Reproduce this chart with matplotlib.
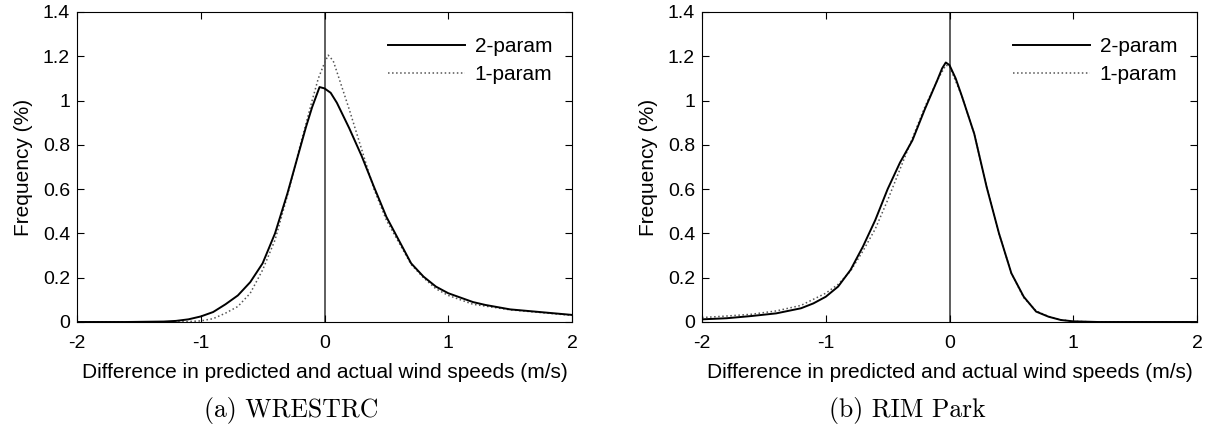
import numpy as np
import matplotlib.pyplot as plt

# WRESTRC (left panel)
x_a2 = [-2.0, -1.6, -1.3, -1.2, -1.1, -1.0, -0.9, -0.8, -0.7, -0.6, -0.5, -0.4, -0.3, -0.2,
        -0.15, -0.1, -0.04, 0.0, 0.05, 0.1, 0.2, 0.3, 0.4, 0.5, 0.6, 0.7, 0.8, 0.9, 1.0, 1.1,
        1.2, 1.3, 1.5, 1.7, 2.0]
y_a2 = [0.0, 0.0, 0.002, 0.005, 0.012, 0.025, 0.045, 0.08, 0.12, 0.18, 0.265, 0.40, 0.58, 0.78,
        0.88, 0.97, 1.061, 1.055, 1.035, 0.99, 0.875, 0.75, 0.61, 0.475, 0.37, 0.265, 0.205,
        0.16, 0.13, 0.11, 0.09, 0.077, 0.057, 0.047, 0.032]
x_a1 = [-2.0, -1.3, -1.1, -1.0, -0.9, -0.8, -0.7, -0.6, -0.5, -0.4, -0.3, -0.2, -0.1, -0.05,
        0.0, 0.03, 0.07, 0.1, 0.2, 0.3, 0.4, 0.5, 0.6, 0.7, 0.8, 0.9, 1.0, 1.2, 1.5, 2.0]
y_a1 = [0.0, 0.0, 0.002, 0.005, 0.015, 0.04, 0.07, 0.13, 0.235, 0.37, 0.57, 0.79, 1.0, 1.1,
        1.17, 1.205, 1.18, 1.13, 0.96, 0.78, 0.6, 0.46, 0.36, 0.26, 0.2, 0.15, 0.12, 0.08,
        0.055, 0.03]

# RIM Park (right panel)
x_b2 = [-2.0, -1.8, -1.6, -1.4, -1.2, -1.1, -1.0, -0.9, -0.8, -0.7, -0.6, -0.5, -0.4, -0.3,
        -0.2, -0.1, -0.06, -0.03, 0.0, 0.05, 0.1, 0.2, 0.3, 0.4, 0.5, 0.6, 0.7, 0.8, 0.9, 1.0,
        1.2, 2.0]
y_b2 = [0.012, 0.017, 0.027, 0.039, 0.062, 0.084, 0.114, 0.16, 0.235, 0.34, 0.46, 0.60, 0.72,
        0.82, 0.96, 1.09, 1.145, 1.172, 1.16, 1.10, 1.02, 0.85, 0.61, 0.40, 0.22, 0.114, 0.047,
        0.024, 0.009, 0.003, 0.0, 0.0]
x_b1 = [-2.0, -1.8, -1.6, -1.4, -1.2, -1.0, -0.9, -0.8, -0.7, -0.6, -0.5, -0.4, -0.3, -0.2,
        -0.1, -0.03, 0.0, 0.1, 0.2, 0.3, 0.4, 0.5, 0.6, 0.7, 0.8, 0.9, 1.0, 1.2, 2.0]
y_b1 = [0.02, 0.027, 0.035, 0.05, 0.075, 0.13, 0.17, 0.23, 0.32, 0.42, 0.55, 0.69, 0.83, 0.97,
        1.09, 1.16, 1.155, 1.02, 0.85, 0.61, 0.40, 0.22, 0.11, 0.05, 0.025, 0.01, 0.003, 0.0, 0.0]

captions = ["(a) WRESTRC", "(b) RIM Park"]
xticks = [-2, -1, 0, 1, 2]
yticks = [0, 0.2, 0.4, 0.6, 0.8, 1, 1.2, 1.4]
ytick_labels = ["0", "0.2", "0.4", "0.6", "0.8", "1", "1.2", "1.4"]

plt.rcParams["font.family"] = ["Liberation Sans", "DejaVu Sans"]

fig = plt.figure(figsize=(12.12, 4.28), dpi=100)
# axes placed in pixels: left 77..572, right 702..1197, y 12..322
ax_a = fig.add_axes([77 / 1212, 106 / 428, 495 / 1212, 310 / 428])
ax_b = fig.add_axes([702 / 1212, 106 / 428, 495 / 1212, 310 / 428])

panels = [(ax_a, x_a2, y_a2, x_a1, y_a1), (ax_b, x_b2, y_b2, x_b1, y_b1)]
for ax, x2, y2, x1, y1 in panels:
    ax.axvline(0, color="#333333", lw=1.1, zorder=1)
    ax.plot(x2, y2, "-", color="black", lw=1.4, label="2-param", zorder=3)
    ax.plot(x1, y1, ":", color="#555555", lw=1.1, label="1-param", zorder=2)
    ax.set_xlim(-2, 2)
    ax.set_ylim(0, 1.4)
    ax.set_xticks(xticks)
    ax.set_xticklabels([str(t) for t in xticks])
    ax.set_yticks(yticks)
    ax.set_yticklabels(ytick_labels)
    ax.tick_params(direction="in", top=True, right=True, labelsize=14, length=5, width=0.8)
    ax.tick_params(axis="x", pad=9)
    ax.tick_params(axis="y", pad=5)
    for s in ax.spines.values():
        s.set_linewidth(0.8)
    ax.set_xlabel("Difference in predicted and actual wind speeds (m/s)", fontsize=15,
                  labelpad=8)
    ax.set_ylabel("Frequency (%)", fontsize=15, labelpad=7)
    ax.legend(loc="upper right", bbox_to_anchor=(0.96, 0.92), frameon=False, fontsize=15,
              handlelength=3.7, handletextpad=0.45, labelspacing=0.45, borderaxespad=0,
              borderpad=0)

fig.text(291 / 1212, 11 / 428, captions[0], family="cmr10", fontsize=18.5, ha="center",
         va="baseline")
fig.text(907 / 1212, 11 / 428, captions[1], family="cmr10", fontsize=18.5, ha="center",
         va="baseline")

fig.savefig("out.png", dpi=100)
